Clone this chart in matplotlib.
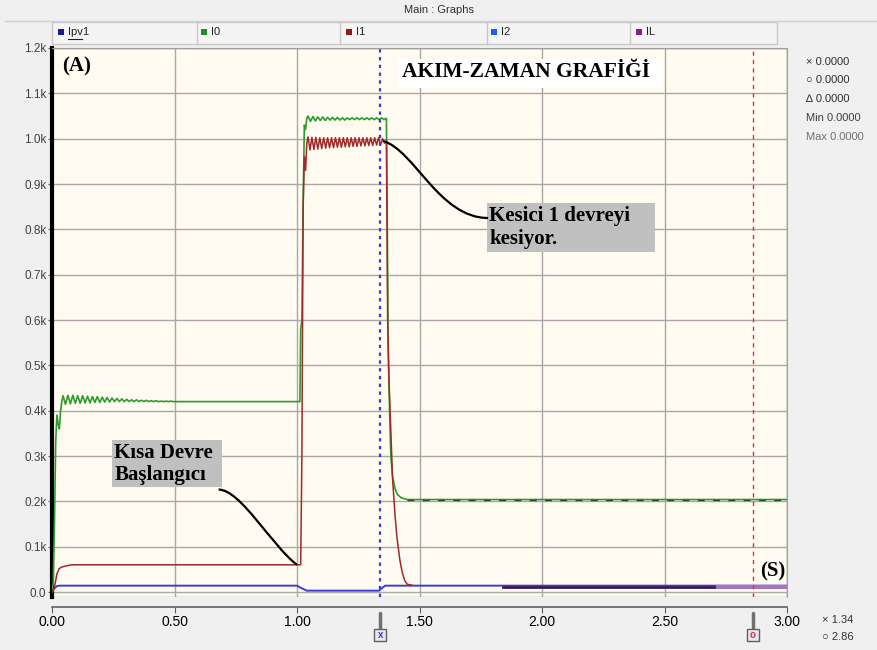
import numpy as np
import matplotlib
matplotlib.use("Agg")
import matplotlib.pyplot as plt
from matplotlib.patches import Rectangle, PathPatch
from matplotlib.path import Path
from matplotlib.lines import Line2D

plt.rcParams["font.family"] = ["Liberation Sans", "DejaVu Sans"]

# ---------------- data ----------------
series_names = ["Ipv1", "I0", "I1", "I2", "IL"]
series_colors = ["#1a1a8c", "#1f8c1f", "#8c1a1a", "#1a5cff", "#8c1a8c"]

x_ticks = [0.0, 0.5, 1.0, 1.5, 2.0, 2.5, 3.0]
x_tick_labels = ["0.00", "0.50", "1.00", "1.50", "2.00", "2.50", "3.00"]
y_ticks = [0.0, 0.1, 0.2, 0.3, 0.4, 0.5, 0.6, 0.7, 0.8, 0.9, 1.0, 1.1, 1.2]
y_tick_labels = ["0.0", "0.1k", "0.2k", "0.3k", "0.4k", "0.5k", "0.6k", "0.7k",
                 "0.8k", "0.9k", "1.0k", "1.1k", "1.2k"]

# I0 (green), kA
i0_start_t = [0.0, 0.005, 0.01, 0.015, 0.02, 0.025, 0.03, 0.035, 0.04]
i0_start_v = [0.0, 0.02, 0.15, 0.33, 0.39, 0.37, 0.36, 0.40, 0.42]
i0_ripple1_t = np.arange(0.045, 0.52, 0.01)
i0_ripple1_v = [0.433, 0.414, 0.434, 0.415, 0.434, 0.416, 0.433, 0.416, 0.433, 0.417,
                0.432, 0.417, 0.431, 0.418, 0.431, 0.418, 0.430, 0.419, 0.429, 0.419,
                0.428, 0.420, 0.427, 0.420, 0.426, 0.420, 0.425, 0.420, 0.424, 0.420,
                0.424, 0.420, 0.423, 0.420, 0.423, 0.420, 0.422, 0.420, 0.422, 0.420,
                0.421, 0.420, 0.421, 0.420, 0.421, 0.420, 0.420, 0.420]
i0_mid_t = [0.6, 1.0, 1.012, 1.015, 1.02, 1.025, 1.03, 1.035, 1.04]
i0_mid_v = [0.42, 0.42, 0.42, 0.58, 0.60, 0.85, 1.03, 1.02, 1.045]
i0_ripple2_t = np.arange(1.045, 1.36, 0.01)
i0_ripple2_v = [1.050, 1.038, 1.049, 1.039, 1.048, 1.040, 1.048, 1.040, 1.047, 1.041,
                1.047, 1.041, 1.047, 1.041, 1.046, 1.041, 1.046, 1.042, 1.046, 1.042,
                1.046, 1.042, 1.046, 1.042, 1.046, 1.042, 1.046, 1.042, 1.046, 1.042,
                1.046, 1.042]
i0_end_t = [1.365, 1.368, 1.372, 1.378, 1.383, 1.39, 1.40, 1.41, 1.425, 1.45, 3.0]
i0_end_v = [1.045, 0.85, 0.55, 0.40, 0.30, 0.255, 0.228, 0.215, 0.208, 0.204, 0.204]

# I1 (dark red), kA
i1_start_t = [0.0, 0.01, 0.02, 0.03, 0.04, 0.06, 0.08, 0.10, 1.015, 1.02, 1.025, 1.03, 1.035, 1.04]
i1_start_v = [0.0, 0.01, 0.04, 0.052, 0.055, 0.058, 0.06, 0.06, 0.06, 0.30, 0.85, 0.96, 0.93, 0.99]
i1_ripple_t = np.arange(1.045, 1.36, 0.008)
i1_ripple_v = [1.004, 0.975, 1.003, 0.976, 1.003, 0.977, 1.002, 0.978, 1.002, 0.979,
               1.002, 0.980, 1.002, 0.980, 1.002, 0.981, 1.002, 0.981, 1.002, 0.982,
               1.002, 0.982, 1.002, 0.983, 1.002, 0.983, 1.002, 0.984, 1.002, 0.984,
               1.002, 0.985, 1.002, 0.985, 1.002, 0.986, 1.002, 0.986, 1.000, 0.990]
i1_end_t = [1.365, 1.37, 1.375, 1.38, 1.39, 1.40, 1.408, 1.42, 1.43, 1.44, 1.45, 1.47]
i1_end_v = [0.995, 0.60, 0.47, 0.40, 0.25, 0.17, 0.12, 0.07, 0.042, 0.025, 0.017, 0.015]

# I2 (blue), kA
i2_t = [0.0, 0.01, 0.02, 0.03, 1.0, 1.02, 1.04, 1.335, 1.345, 1.36, 3.0]
i2_v = [0.0, 0.008, 0.013, 0.014, 0.014, 0.008, 0.003, 0.003, 0.008, 0.014, 0.014]

# Ipv1 (navy) and IL (purple), kA
ipv1_t = [1.84, 2.72]
ipv1_v = [0.012, 0.012]
il_t = [2.72, 3.0]
il_v = [0.011, 0.011]

cursor_x = 1.34
cursor_o = 2.86

# ---------------- figure ----------------
W, H = 877, 650
fig = plt.figure(figsize=(W / 100, H / 100), dpi=100, facecolor="#F0F0F0")

def FX(px):
    return px / W

def FY(py):
    return 1 - py / H

ax = fig.add_axes([FX(52), FY(597), FX(787) - FX(52), FY(48) - FY(597)])
ax.set_facecolor("#FFFBF0")
ax.set_xlim(0, 3.0)
ax.set_ylim(-0.011, 1.2)

ax.set_yticks(y_ticks)
ax.set_yticklabels(y_tick_labels, fontsize=8.5, color="#404040")
ax.set_xticks(x_ticks)
ax.set_xticklabels(x_tick_labels, fontsize=8.5, color="#404040")
ax.tick_params(axis="y", length=3, color="#606060", pad=1)
ax.tick_params(axis="x", length=4, color="#606060", pad=1.5, direction="out")
ax.grid(True, color="#a8a8a8", lw=1.0)
ax.set_axisbelow(True)

for s in ["top", "right"]:
    ax.spines[s].set_color("#a0a0a0")
ax.spines["left"].set_color("black")
ax.spines["left"].set_linewidth(3)
ax.spines["bottom"].set_position(("outward", 7.5))
ax.spines["bottom"].set_color("#606060")
ax.spines["bottom"].set_linewidth(1.2)
ax.add_patch(Rectangle((0, 0), 1, 1, transform=ax.transAxes, fill=False,
                       edgecolor="#a0a0a0", lw=1, zorder=1))

# ---- series ----
green, red, blue = "#2e9b2e", "#9e2a2a", "#3c3cd8"
i0_t = np.concatenate([i0_start_t, i0_ripple1_t, i0_mid_t, i0_ripple2_t, i0_end_t])
i0_v = np.concatenate([i0_start_v, i0_ripple1_v, i0_mid_v, i0_ripple2_v, i0_end_v])
i1_t = np.concatenate([i1_start_t, i1_ripple_t, i1_end_t])
i1_v = np.concatenate([i1_start_v, i1_ripple_v, i1_end_v])

ax.plot(i2_t, i2_v, color=blue, lw=1.4, zorder=3)
ax.plot(i0_t, i0_v, color=green, lw=1.2, zorder=4)
tail = i0_t >= 1.45
ax.plot(i0_t[tail], i0_v[tail], color="#1d4d1d", lw=1.0, ls=(0, (5, 6)), zorder=5)
ax.plot(i1_t, i1_v, color=red, lw=1.1, zorder=5)
ax.plot(ipv1_t, ipv1_v, color="#3a1a5a", lw=2.0, zorder=6)
ax.plot(il_t, il_v, color="#a478b4", lw=3.0, zorder=6)

# cursors
ax.axvline(cursor_x, color="#3a3acc", lw=1.6, ls=(0, (1.5, 2)), zorder=6)
ax.axvline(cursor_o, color="#e03030", lw=1.0, ls=(0, (3, 3)), zorder=6)

# ---- annotations ----
serif = "Liberation Serif"
ax.text(0.04, 1.16, "(A)", fontsize=15, fontweight="bold", family=serif,
        va="center", ha="left", zorder=7)
ax.text(2.89, 0.046, "(S)", fontsize=15, fontweight="bold", family=serif,
        va="center", ha="left", zorder=7)

# title box
ax.add_patch(Rectangle((1.412, 1.112), 2.49 - 1.412, 1.175 - 1.112, facecolor="white",
                       edgecolor="none", zorder=6.5))
ax.text(1.43, 1.146, "AKIM-ZAMAN GRAFİĞİ", fontsize=15.5, fontweight="bold", family=serif,
        va="center", ha="left", zorder=7)

# Kısa Devre box
ax.add_patch(Rectangle((0.245, 0.232), 0.694 - 0.245, 0.335 - 0.232, facecolor="#c0c0c0",
                       edgecolor="none", zorder=6.5))
ax.text(0.255, 0.283, "Kısa Devre\nBaşlangıcı", fontsize=15, fontweight="bold", family=serif,
        va="center", ha="left", linespacing=1.15, zorder=7)

# Kesici box
ax.add_patch(Rectangle((1.776, 0.750), 2.461 - 1.776, 0.858 - 0.750, facecolor="#c0c0c0",
                       edgecolor="none", zorder=6.5))
ax.text(1.785, 0.804, "Kesici 1 devreyi\nkesiyor.", fontsize=15, fontweight="bold", family=serif,
        va="center", ha="left", linespacing=1.15, zorder=7)

curve1 = Path([(0.68, 0.226), (0.77, 0.226), (0.90, 0.10), (1.0, 0.06)],
              [Path.MOVETO, Path.CURVE4, Path.CURVE4, Path.CURVE4])
ax.add_patch(PathPatch(curve1, fill=False, edgecolor="black", lw=1.6, zorder=7))
curve2 = Path([(1.351, 0.995), (1.48, 0.975), (1.58, 0.825), (1.78, 0.825)],
              [Path.MOVETO, Path.CURVE4, Path.CURVE4, Path.CURVE4])
ax.add_patch(PathPatch(curve2, fill=False, edgecolor="black", lw=1.6, zorder=7))

# ---- slider handles below x axis ----
trans = ax.get_xaxis_transform()
for xv, col, sym in [(cursor_x, "#3a3acc", "x"), (cursor_o, "#e03030", "o")]:
    ax.plot([xv, xv], [-0.03, -0.065], transform=trans, color="#707070", lw=2.5,
            clip_on=False, solid_capstyle="round")
    ax.plot([xv], [-0.07], transform=trans, marker="s", ms=9, mfc="#e8e8f0",
            mec="#606060", clip_on=False)
    ax.text(xv, -0.07, sym, transform=trans, color=col, fontsize=7, fontweight="bold",
            ha="center", va="center", clip_on=False)

# ---- top bar: title and legend tabs ----
fig.text(0.5, FY(10), "Main : Graphs", ha="center", va="center", fontsize=8,
         color="#303030")
fig.add_artist(Line2D([FX(5), FX(877)], [FY(21), FY(21)], color="#d0d0d0", lw=1))
fig.add_artist(Rectangle((FX(52), FY(44)), FX(777) - FX(52), FY(22) - FY(44),
                         facecolor="#f4f4f4", edgecolor="#c8c8c8", lw=1))
tab_edges = [52, 197, 340, 487, 630, 777]
for e in tab_edges[1:-1]:
    fig.add_artist(Line2D([FX(e), FX(e)], [FY(22), FY(44)], color="#c8c8c8", lw=1))
tab_text_x = [62, 205, 350, 495, 640]
for name, col, tx in zip(series_names, series_colors, tab_text_x):
    fig.add_artist(Rectangle((FX(tx - 4), FY(35)), FX(6), FY(29) - FY(35),
                             facecolor=col, edgecolor="none"))
    fig.text(FX(tx + 6), FY(32), name, ha="left", va="center", fontsize=8,
             color="#202020")
    if name == "Ipv1":
        fig.add_artist(Line2D([FX(tx + 6), FX(tx + 20)], [FY(39), FY(39)],
                              color="#202020", lw=0.8))

# ---- right info panel ----
info = [("× 0.0000", 62, "#303030"), ("○ 0.0000", 80, "#303030"),
        ("∆ 0.0000", 99, "#303030"), ("Min 0.0000", 118, "#404040"),
        ("Max 0.0000", 137, "#707070")]
for txt, py, col in info:
    fig.text(FX(806), FY(py), txt, ha="left", va="center", fontsize=8, color=col)
fig.text(FX(822), FY(620), "× 1.34", ha="left", va="center", fontsize=8, color="#303030")
fig.text(FX(822), FY(637), "○ 2.86", ha="left", va="center", fontsize=8, color="#303030")

fig.savefig("out.png", dpi=100, facecolor=fig.get_facecolor())
